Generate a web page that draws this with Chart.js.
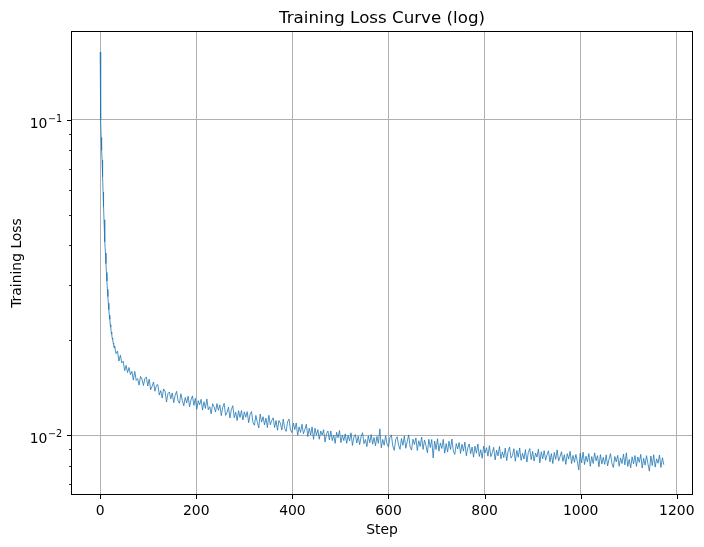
<!DOCTYPE html>
<html>
<head>
<meta charset="utf-8">
<script src="https://cdn.jsdelivr.net/npm/chart.js@4.4.1/dist/chart.umd.min.js"></script>
<style>
  html, body { margin: 0; padding: 0; background: #fff; }
  #wrap { width: 704px; height: 547px; }
</style>
</head>
<body>
<div id="wrap"><canvas id="chart" width="704" height="547"></canvas></div>
<script>
// steps 0..29, one value per step (steep warm-up drop)
const earlyLoss = [
  0.164, 0.100, 0.088, 0.080, 0.0746, 0.0660, 0.0590, 0.0530, 0.0482, 0.0445,
  0.0410, 0.0378, 0.0350, 0.0328, 0.0308, 0.0290, 0.0275, 0.0262, 0.0250, 0.0240,
  0.0233, 0.0224, 0.0220, 0.0212, 0.0209, 0.0203, 0.0201, 0.0196, 0.0194, 0.0189
];

// steps 30..1173, read every 3rd step
const lossEvery3 = [
  0.01919, 0.01813, 0.01846, 0.01717, 0.01792, 0.01693, 0.01714, 0.01600, 0.01663, 0.01578,
  0.01638, 0.01554, 0.01591, 0.01494, 0.01591, 0.01490, 0.01510, 0.01440, 0.01535, 0.01505,
  0.01436, 0.01510, 0.01529, 0.01431, 0.01504, 0.01392, 0.01426, 0.01473, 0.01377, 0.01438,
  0.01446, 0.01339, 0.01384, 0.01310, 0.01401, 0.01377, 0.01273, 0.01353, 0.01370, 0.01303,
  0.01360, 0.01267, 0.01336, 0.01376, 0.01284, 0.01261, 0.01352, 0.01287, 0.01238, 0.01316,
  0.01264, 0.01329, 0.01229, 0.01293, 0.01331, 0.01242, 0.01308, 0.01207, 0.01285, 0.01247,
  0.01298, 0.01200, 0.01275, 0.01215, 0.01302, 0.01203, 0.01230, 0.01169, 0.01257, 0.01232,
  0.01183, 0.01258, 0.01198, 0.01246, 0.01152, 0.01224, 0.01260, 0.01154, 0.01178, 0.01226,
  0.01133, 0.01204, 0.01239, 0.01135, 0.01182, 0.01112, 0.01195, 0.01137, 0.01196, 0.01116,
  0.01185, 0.01139, 0.01186, 0.01094, 0.01163, 0.01187, 0.01096, 0.01074, 0.01154, 0.01098,
  0.01053, 0.01165, 0.01099, 0.01143, 0.01077, 0.01132, 0.01056, 0.01155, 0.01078, 0.01111,
  0.01134, 0.01057, 0.01112, 0.01036, 0.01112, 0.01091, 0.01037, 0.01123, 0.01049, 0.01027,
  0.01102, 0.01124, 0.01039, 0.01018, 0.01092, 0.01040, 0.01092, 0.00998, 0.01061, 0.01019,
  0.01082, 0.01009, 0.01040, 0.01082, 0.00989, 0.01051, 0.01000, 0.01061, 0.00969, 0.01051,
  0.01000, 0.01040, 0.00970, 0.01030, 0.01000, 0.01040, 0.00950, 0.01010, 0.01030, 0.00965,
  0.01030, 0.00960, 0.01000, 0.00941, 0.01020, 0.00980, 0.01034, 0.00946, 0.01000, 0.00960,
  0.01009, 0.00941, 0.00998, 0.00958, 0.01016, 0.00927, 0.00985, 0.01003, 0.00944, 0.00991,
  0.00932, 0.00989, 0.01017, 0.00939, 0.00968, 0.00919, 0.00995, 0.00946, 0.01004, 0.00935,
  0.00982, 0.00924, 0.00990, 0.00941, 0.01046, 0.00911, 0.00968, 0.00928, 0.00995, 0.00937,
  0.00917, 0.00983, 0.01001, 0.00923, 0.00894, 0.00969, 0.00987, 0.00930, 0.00901, 0.00975,
  0.00928, 0.00993, 0.00908, 0.00954, 0.01001, 0.00916, 0.00896, 0.00970, 0.00933, 0.00979,
  0.00893, 0.00959, 0.00920, 0.00985, 0.00900, 0.00964, 0.00926, 0.00878, 0.00970, 0.00913,
  0.00968, 0.00846, 0.00957, 0.00900, 0.00973, 0.00889, 0.00944, 0.00906, 0.00969, 0.00876,
  0.00939, 0.00883, 0.00956, 0.00900, 0.00971, 0.00888, 0.00868, 0.00940, 0.00903, 0.00947,
  0.00874, 0.00935, 0.00889, 0.00950, 0.00859, 0.00911, 0.00937, 0.00872, 0.00916, 0.00851,
  0.00922, 0.00876, 0.00937, 0.00855, 0.00898, 0.00844, 0.00922, 0.00877, 0.00912, 0.00857,
  0.00925, 0.00854, 0.00879, 0.00914, 0.00834, 0.00895, 0.00859, 0.00920, 0.00841, 0.00884,
  0.00848, 0.00909, 0.00829, 0.00889, 0.00916, 0.00845, 0.00861, 0.00905, 0.00826, 0.00894,
  0.00850, 0.00910, 0.00831, 0.00875, 0.00839, 0.00899, 0.00821, 0.00880, 0.00906, 0.00836,
  0.00887, 0.00827, 0.00877, 0.00851, 0.00902, 0.00816, 0.00885, 0.00841, 0.00892, 0.00832,
  0.00866, 0.00891, 0.00822, 0.00873, 0.00812, 0.00881, 0.00837, 0.00897, 0.00827, 0.00853,
  0.00885, 0.00825, 0.00866, 0.00807, 0.00873, 0.00839, 0.00888, 0.00812, 0.00862, 0.00819,
  0.00868, 0.00826, 0.00775, 0.00876, 0.00816, 0.00883, 0.00806, 0.00857, 0.00822, 0.00873,
  0.00796, 0.00855, 0.00812, 0.00878, 0.00828, 0.00860, 0.00793, 0.00867, 0.00809, 0.00850,
  0.00807, 0.00865, 0.00798, 0.00839, 0.00873, 0.00813, 0.00789, 0.00855, 0.00822, 0.00862,
  0.00796, 0.00846, 0.00812, 0.00870, 0.00804, 0.00878, 0.00795, 0.00837, 0.00787, 0.00853,
  0.00811, 0.00861, 0.00795, 0.00852, 0.00819, 0.00868, 0.00786, 0.00844, 0.00802, 0.00860,
  0.00809, 0.00768, 0.00858, 0.00800, 0.00866, 0.00791, 0.00840, 0.00814, 0.00864, 0.00789,
  0.00847, 0.00805
];

const xTicks = [0, 200, 400, 600, 800, 1000, 1200];
const xTickLabels = ['0', '200', '400', '600', '800', '1000', '1200'];
const yMajorTicks = [0.01, 0.1];
const yMajorExponents = ['\u22122', '\u22121'];
const yMinorTicks = [0.007, 0.008, 0.009, 0.02, 0.03, 0.04, 0.05, 0.06, 0.07, 0.08, 0.09];

const points = earlyLoss.map((v, i) => ({ x: i, y: v }))
  .concat(lossEvery3.map((v, i) => ({ x: 30 + 3 * i, y: v })));

const FONT = '"DejaVu Sans", sans-serif';

// matplotlib-like frame, ticks and labels
const mplAxes = {
  id: 'mplAxes',
  afterDraw(chart) {
    const { ctx, chartArea: a, scales: { x, y } } = chart;
    ctx.save();
    ctx.strokeStyle = '#000';
    ctx.fillStyle = '#000';

    ctx.lineWidth = 1;
    ctx.strokeRect(a.left - 0.5, a.top - 0.5, a.right - a.left + 1, a.bottom - a.top + 1);

    ctx.beginPath();
    xTicks.forEach(v => {
      const px = Math.round(x.getPixelForValue(v)) + 0.5;
      ctx.moveTo(px, a.bottom);
      ctx.lineTo(px, a.bottom + 5);
    });
    yMajorTicks.forEach(v => {
      const py = Math.round(y.getPixelForValue(v)) + 0.5;
      ctx.moveTo(a.left, py);
      ctx.lineTo(a.left - 5, py);
    });
    ctx.stroke();

    ctx.lineWidth = 0.8;
    ctx.beginPath();
    yMinorTicks.forEach(v => {
      const py = Math.round(y.getPixelForValue(v)) + 0.5;
      ctx.moveTo(a.left, py);
      ctx.lineTo(a.left - 3, py);
    });
    ctx.stroke();

    ctx.font = '13.9px ' + FONT;
    ctx.textAlign = 'center';
    ctx.textBaseline = 'alphabetic';
    xTicks.forEach((v, i) => {
      ctx.fillText(xTickLabels[i], x.getPixelForValue(v), a.bottom + 21);
    });

    // 10^n labels
    yMajorTicks.forEach((v, i) => {
      const py = y.getPixelForValue(v);
      const right = a.left - 9.8;
      ctx.font = '9.7px ' + FONT;
      const supW = ctx.measureText(yMajorExponents[i]).width;
      ctx.textAlign = 'right';
      ctx.fillText(yMajorExponents[i], right, py + 2);
      ctx.font = '13.9px ' + FONT;
      ctx.fillText('10', right - supW - 0.5, py + 8);
    });

    ctx.textAlign = 'center';
    ctx.font = '13.9px ' + FONT;
    ctx.fillText('Step', (a.left + a.right) / 2, a.bottom + 40);

    ctx.save();
    ctx.translate(21, (a.top + a.bottom) / 2);
    ctx.rotate(-Math.PI / 2);
    ctx.fillText('Training Loss', 0, 0);
    ctx.restore();

    ctx.font = '16.7px ' + FONT;
    ctx.fillText('Training Loss Curve (log)', (a.left + a.right) / 2, a.top - 9.5);
    ctx.restore();
  }
};

new Chart(document.getElementById('chart'), {
  type: 'line',
  data: {
    datasets: [{
      data: points,
      borderColor: '#1f77b4',
      borderWidth: 0.8,
      pointRadius: 0,
      tension: 0,
      fill: false
    }]
  },
  options: {
    responsive: false,
    animation: false,
    events: [],
    layout: { padding: { left: 72, top: 32, right: 12, bottom: 53 } },
    plugins: { legend: { display: false }, tooltip: { enabled: false } },
    scales: {
      x: {
        type: 'linear',
        min: -58.65,
        max: 1231.65,
        afterBuildTicks: s => { s.ticks = xTicks.map(v => ({ value: v })); },
        ticks: { display: false },
        grid: { color: '#b0b0b0', lineWidth: 1, drawTicks: false },
        border: { display: false }
      },
      y: {
        type: 'logarithmic',
        min: 0.0065,
        max: 0.19,
        afterBuildTicks: s => { s.ticks = yMajorTicks.map(v => ({ value: v })); },
        ticks: { display: false },
        grid: { color: '#b0b0b0', lineWidth: 1, drawTicks: false },
        border: { display: false }
      }
    }
  },
  plugins: [mplAxes]
});
</script>
</body>
</html>
